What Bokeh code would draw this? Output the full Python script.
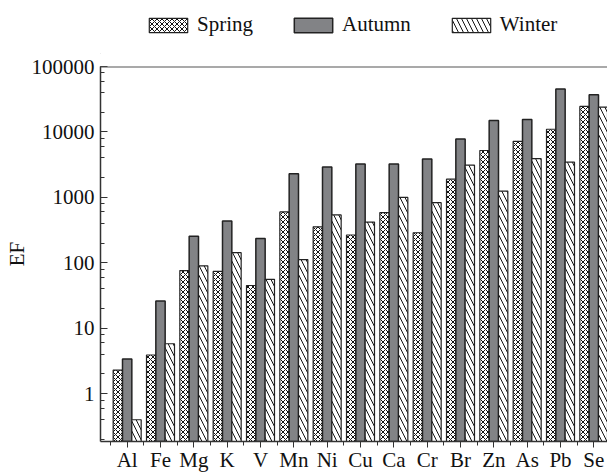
from bokeh.plotting import figure
from bokeh.layouts import column
from bokeh.models import (Range1d, FixedTicker, LogTicker, NumeralTickFormatter,
                          Legend, LegendItem, ColumnDataSource, Span)
from bokeh.embed import file_html
from bokeh.resources import INLINE

elements = ["Al", "Fe", "Mg", "K", "V", "Mn", "Ni", "Cu", "Ca", "Cr", "Br", "Zn", "As", "Pb", "Se"]
spring = [2.3, 3.9, 76, 74, 45, 600, 355, 266, 585, 288, 1900, 5200, 7200, 11000, 24500]
autumn = [3.4, 26, 255, 435, 235, 2300, 2900, 3250, 3250, 3850, 7800, 15000, 15500, 45500, 37000]
winter = [0.4, 5.8, 90, 143, 56, 112, 540, 420, 1000, 830, 3100, 1250, 3900, 3450, 24000]
series = ["Spring", "Autumn", "Winter"]

FONT = "Liberation Serif"
bw = 0.28
xs = list(range(len(elements)))
src = ColumnDataSource(dict(
    xs=[i - bw for i in xs], xa=[i for i in xs], xw=[i + bw for i in xs],
    spring=spring, autumn=autumn, winter=winter))

STY = [dict(fill_color="white", line_color="#222222", line_width=1.2,
            hatch_pattern="x", hatch_color="#111111", hatch_scale=5, hatch_weight=1),
       dict(fill_color="#828386", line_color="#222222", line_width=1.5),
       dict(fill_color="white", line_color="#222222", line_width=1.2,
            hatch_pattern="\\", hatch_color="#111111", hatch_scale=10, hatch_weight=1)]

p = figure(width=607, height=420, y_axis_type="log",
           x_range=Range1d(-0.8, 14.41), y_range=Range1d(0.186, 100000),
           output_backend="svg", toolbar_location=None,
           min_border_left=100, min_border_right=0, min_border_top=12, min_border_bottom=31)
p.outline_line_color = None
p.grid.grid_line_color = None

p.vbar(x="xs", top="spring", bottom=0.01, width=bw, source=src, **STY[0])
p.vbar(x="xa", top="autumn", bottom=0.01, width=bw, source=src, **STY[1])
p.vbar(x="xw", top="winter", bottom=0.01, width=bw, source=src, **STY[2])

p.add_layout(Span(location=100000, dimension="width", line_color="#555555", line_width=2))

xa = p.xaxis[0]
xa.ticker = FixedTicker(ticks=xs, minor_ticks=[i - 0.5 for i in range(len(elements) + 1)])
xa.major_label_overrides = {i: e for i, e in enumerate(elements)}
xa.major_tick_in = 0
xa.major_tick_out = 6
xa.minor_tick_in = 0
xa.minor_tick_out = 4
xa.axis_line_color = "#333333"
xa.axis_line_width = 1.5
xa.major_tick_line_color = "#333333"
xa.minor_tick_line_color = "#333333"
xa.major_label_text_font = FONT
xa.major_label_text_font_size = "21px"
xa.major_label_text_color = "#111111"
xa.major_label_standoff = 0

ya = p.yaxis[0]
ya.ticker = LogTicker()
ya.formatter = NumeralTickFormatter(format="0")
ya.major_tick_in = 7
ya.major_tick_out = 0
ya.minor_tick_in = 4
ya.minor_tick_out = 0
ya.axis_line_color = "#333333"
ya.axis_line_width = 1.5
ya.major_tick_line_color = "#333333"
ya.minor_tick_line_color = "#333333"
ya.major_label_text_font = FONT
ya.major_label_text_font_size = "21px"
ya.major_label_text_color = "#111111"
ya.major_label_standoff = 6
ya.axis_label = "EF"
ya.axis_label_text_font = FONT
ya.axis_label_text_font_size = "21px"
ya.axis_label_text_font_style = "normal"
ya.axis_label_text_color = "#111111"
ya.axis_label_standoff = 0

# legend strip above the chart (its swatch glyphs sit outside the visible range)
lf = figure(width=607, height=54, x_range=Range1d(0, 1), y_range=Range1d(0, 1),
            output_backend="svg", toolbar_location=None,
            min_border_left=0, min_border_right=0, min_border_top=0, min_border_bottom=0)
lf.axis.visible = False
lf.grid.grid_line_color = None
lf.outline_line_color = None
hidden = ColumnDataSource(dict(x=[-10], top=[-10]))
lr = [lf.vbar(x="x", top="top", bottom=-11, width=0.1, source=hidden, **s) for s in STY]
legend = Legend(items=[LegendItem(label=n, renderers=[r]) for n, r in zip(series, lr)],
                orientation="horizontal", location=(44, 17),
                glyph_width=48, glyph_height=18, label_standoff=5, spacing=36,
                padding=0, margin=0, border_line_color=None, background_fill_alpha=0,
                label_text_font=FONT, label_text_font_size="21px", label_text_color="#111111")
lf.add_layout(legend, "center")

layout = column(lf, p, spacing=0)
open("out.html", "w").write(file_html(layout, INLINE))
